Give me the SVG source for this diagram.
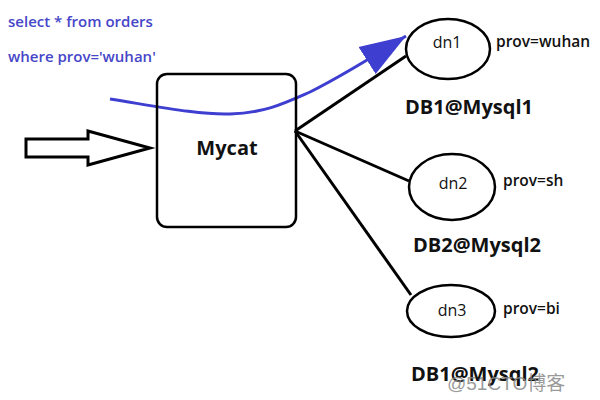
<svg xmlns="http://www.w3.org/2000/svg" width="600" height="400" viewBox="0 0 600 400">
<style>
.lbl{font-family:"Open Sans","Liberation Sans",sans-serif;fill:#111}
.q{font-family:"Open Sans","Liberation Sans",sans-serif;fill:#4646c8;font-size:15px;font-weight:600}
.ell{fill:#fff;stroke:#000;stroke-width:2.5}
.ln{stroke:#000;stroke-width:3;fill:none}
.pv{font-size:15.5px;font-weight:600}
</style>
<defs>
<marker id="bh" markerUnits="userSpaceOnUse" markerWidth="50" markerHeight="50" refX="46" refY="20" orient="auto" viewBox="0 0 50 40">
<path d="M0,4 L46,20 L0,36 Z" fill="#3e3ed0"/>
</marker>
</defs>
<rect width="600" height="400" fill="#fff"/>
<text class="q" x="8" y="27">select * from orders</text>
<text class="q" x="8" y="62">where prov='wuhan'</text>
<g id="connectors">
<path class="ln" d="M295,131 L406,56"/>
<path class="ln" d="M295,131 L409,181"/>
<path class="ln" d="M295,131 L411,295"/>
<path d="M26,139 H88 V131 L150,148 L88,165 V157 H26 Z" fill="#fff" stroke="#000" stroke-width="3" stroke-linejoin="miter"/>
<path d="M110,99 C160,107 200,115 230,114 C265,113 285,103 310,92 C330,82 360,65 406,36" fill="none" stroke="#3e3ed0" stroke-width="3" marker-end="url(#bh)"/>
</g>
<g id="mycat">
<rect x="157" y="74" width="139" height="153" rx="10" fill="none" stroke="#000" stroke-width="2.5"/>
<text class="lbl" x="227" y="155" font-size="20" font-weight="bold" text-anchor="middle">Mycat</text>
</g>
<g id="dn1">
<ellipse class="ell" cx="448" cy="49" rx="42" ry="30"/>
<text class="lbl" x="447" y="48" font-size="16" text-anchor="middle">dn1</text>
<text class="lbl pv" x="496" y="47">prov=wuhan</text>
<text class="lbl" x="405" y="114" font-size="20" font-weight="bold">DB1@Mysql1</text>
</g>
<g id="dn2">
<ellipse class="ell" cx="452" cy="187" rx="43" ry="33"/>
<text class="lbl" x="453" y="189" font-size="16" text-anchor="middle">dn2</text>
<text class="lbl pv" x="503" y="186">prov=sh</text>
<text class="lbl" x="413" y="252" font-size="20" font-weight="bold">DB2@Mysql2</text>
</g>
<g id="dn3">
<ellipse class="ell" cx="451" cy="311" rx="44" ry="26"/>
<text class="lbl" x="452" y="316" font-size="16" text-anchor="middle">dn3</text>
<text class="lbl pv" x="503" y="314">prov=bi</text>
<text class="lbl" x="411" y="381" font-size="20" font-weight="bold">DB1@Mysql2</text>
</g>
<text x="447" y="390" font-family="'Liberation Sans','Noto Sans CJK SC',sans-serif" font-size="19" fill="#888" fill-opacity="0.85">@51CTO博客</text>
</svg>
